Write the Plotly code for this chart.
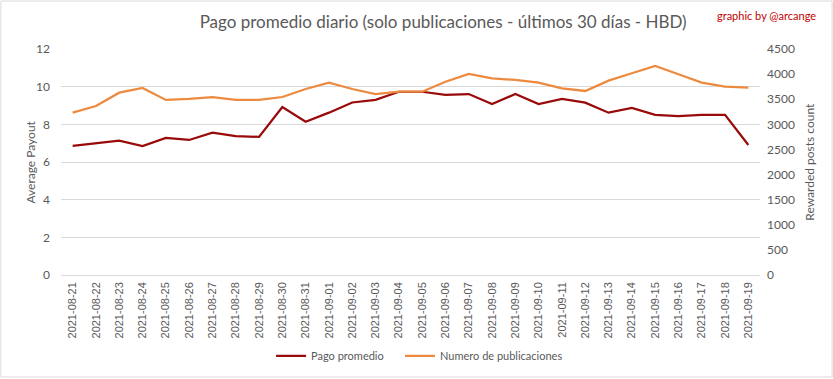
import plotly.graph_objects as go

dates = ["2021-08-21","2021-08-22","2021-08-23","2021-08-24","2021-08-25","2021-08-26","2021-08-27",
         "2021-08-28","2021-08-29","2021-08-30","2021-08-31","2021-09-01","2021-09-02","2021-09-03",
         "2021-09-04","2021-09-05","2021-09-06","2021-09-07","2021-09-08","2021-09-09","2021-09-10",
         "2021-09-11","2021-09-12","2021-09-13","2021-09-14","2021-09-15","2021-09-16","2021-09-17",
         "2021-09-18","2021-09-19"]

pago_promedio = [6.85, 6.97, 7.13, 6.85, 7.28, 7.17, 7.56, 7.38, 7.33, 8.92, 8.14, 8.62, 9.16, 9.30,
                 9.73, 9.73, 9.56, 9.61, 9.08, 9.61, 9.08, 9.35, 9.15, 8.62, 8.87, 8.50, 8.44, 8.50,
                 8.50, 6.90]

num_publicaciones = [3232, 3365, 3630, 3724, 3485, 3505, 3544, 3485, 3485, 3544, 3704, 3830, 3704, 3604,
                     3650, 3650, 3849, 4003, 3917, 3884, 3830, 3718, 3664, 3870, 4017, 4162, 3997, 3830,
                     3750, 3730]

RED = "#990a0a"
ORANGE = "#ec8a3f"
GRAY = "#595959"
GRID = "#d9d9d9"

fig = go.Figure()
fig.add_trace(go.Scatter(x=dates, y=pago_promedio, name="Pago promedio\u00a0\u00a0\u00a0\u00a0", mode="lines",
                         line=dict(color=RED, width=2.25), yaxis="y"))
fig.add_trace(go.Scatter(x=dates, y=num_publicaciones, name="Numero de publicaciones", mode="lines",
                         line=dict(color=ORANGE, width=2.25), yaxis="y2"))

fig.update_layout(
    width=833, height=379,
    margin=dict(l=61, r=73, t=49, b=104, autoexpand=False),
    paper_bgcolor="white", plot_bgcolor="white",
    font=dict(family="Lato", color=GRAY, size=12),
    title=dict(text="Pago promedio diario (solo publicaciones - últimos 30 días - HBD)",
               x=0.532, xanchor="center", y=0.942, yanchor="middle",
               font=dict(family="Lato", size=17, color=GRAY)),
    xaxis=dict(type="category", range=[-0.5, 29.5], showgrid=False, zeroline=False, showline=False,
               tickangle=-90, tickfont=dict(family="Liberation Sans", size=11, color=GRAY),
               ticks="", ticklabelstandoff=4, automargin=False),
    yaxis=dict(range=[0, 12], dtick=2, showgrid=True, gridcolor=GRID, gridwidth=1,
               zeroline=True, zerolinecolor=GRID, zerolinewidth=1, showline=False,
               tickfont=dict(size=12, color=GRAY), ticklabelstandoff=10, automargin=False),
    yaxis2=dict(range=[0, 4500], dtick=500, overlaying="y", side="right", showgrid=False,
                zeroline=False, showline=False, tickfont=dict(size=12, color=GRAY),
                ticklabelstandoff=6, automargin=False),
    legend=dict(orientation="h", x=0.513, xanchor="center", y=-0.358, yanchor="middle",
                font=dict(size=11, color=GRAY), itemwidth=30, tracegroupgap=0),
    showlegend=True,
)

fig.add_annotation(text="Average Payout", xref="paper", yref="paper", x=-0.045, y=0.5,
                   textangle=-90, showarrow=False, xanchor="center", yanchor="middle",
                   font=dict(size=12, color=GRAY))
fig.add_annotation(text="Rewarded posts count", xref="paper", yref="paper", x=1.0696, y=0.5,
                   textangle=-90, showarrow=False, xanchor="center", yanchor="middle",
                   font=dict(size=12, color=GRAY))
fig.add_annotation(text="graphic by @arcange", xref="paper", yref="paper",
                   x=(765 - 61) / 698, y=(275 - 15) / 226, showarrow=False,
                   xanchor="center", yanchor="middle",
                   font=dict(size=11, color="#c00000"))
fig.add_shape(type="rect", xref="paper", yref="paper",
              x0=(1 - 61) / 698, x1=(831 - 61) / 698, y0=(275 - 377) / 226, y1=(275 - 1) / 226,
              line=dict(color=GRID, width=1), fillcolor="rgba(0,0,0,0)", layer="below")

fig.write_html("out.html", config={"displayModeBar": False},
               post_script="document.body.style.margin='0';document.body.style.overflow='hidden';")
